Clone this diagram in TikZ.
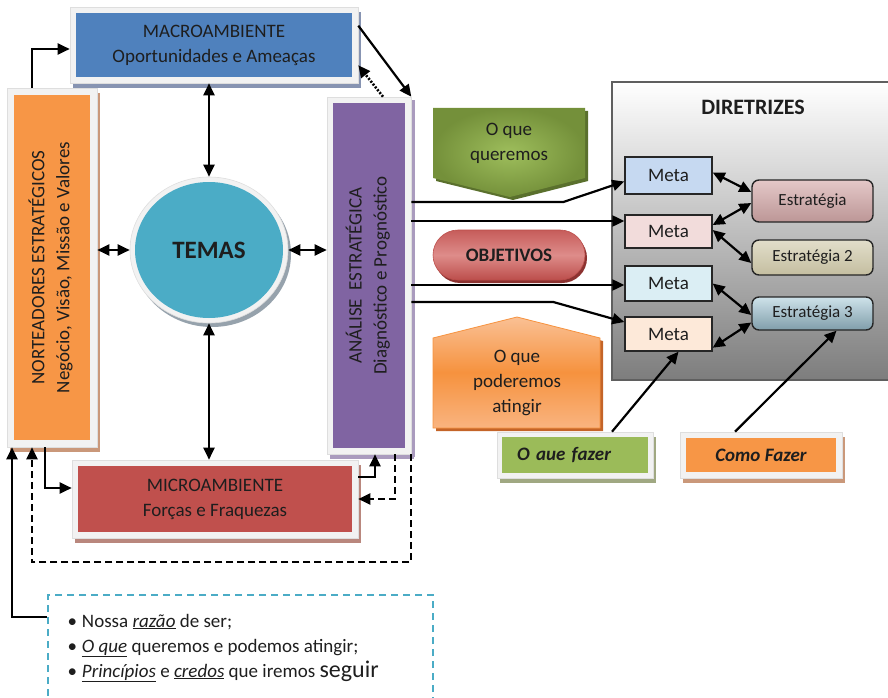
\documentclass[tikz,border=0pt]{standalone}
\usepackage{fontspec}
\usepackage{graphicx}
\setmainfont{Carlito}
\usetikzlibrary{arrows.meta,shapes.geometric,shadows}

\definecolor{ink}{RGB}{30,30,30}
\definecolor{framegray}{RGB}{242,242,242}
\definecolor{macroblue}{RGB}{79,129,189}
\definecolor{macroshadow}{RGB}{135,148,178}
\definecolor{norteorange}{RGB}{247,150,70}
\definecolor{norteshadow}{RGB}{202,152,122}
\definecolor{temasblue}{RGB}{75,172,198}
\definecolor{temasshadow}{RGB}{150,162,172}
\definecolor{analisepurple}{RGB}{128,100,162}
\definecolor{analiseshadow}{RGB}{170,155,190}
\definecolor{microred}{RGB}{192,80,77}
\definecolor{microshadow}{RGB}{185,135,125}
\definecolor{fazergreen}{RGB}{155,187,89}
\definecolor{fazershadow}{RGB}{160,168,130}
\definecolor{greenlight}{RGB}{158,190,92}
\definecolor{greendark}{RGB}{116,144,58}
\definecolor{greenshadow}{RGB}{90,112,45}
\definecolor{orangetop}{RGB}{250,192,148}
\definecolor{orangemid}{RGB}{246,146,62}
\definecolor{orangebot}{RGB}{249,180,128}
\definecolor{orangeshadow}{RGB}{196,100,40}
\definecolor{objtop}{RGB}{198,92,90}
\definecolor{objmid}{RGB}{222,140,138}
\definecolor{objbot}{RGB}{188,78,75}
\definecolor{objshadow}{RGB}{140,50,48}
\definecolor{panelgray}{RGB}{125,125,125}
\definecolor{paneledge}{RGB}{95,95,95}
\definecolor{metaA}{RGB}{198,217,241}
\definecolor{metaB}{RGB}{242,220,219}
\definecolor{metaC}{RGB}{219,238,244}
\definecolor{metaD}{RGB}{253,233,217}
\definecolor{estAtop}{RGB}{228,200,200}
\definecolor{estAbot}{RGB}{188,150,150}
\definecolor{estBtop}{RGB}{226,222,202}
\definecolor{estBbot}{RGB}{196,190,160}
\definecolor{estCtop}{RGB}{206,226,234}
\definecolor{estCbot}{RGB}{128,158,170}
\definecolor{boxblue}{RGB}{75,172,198}

\begin{document}
\begin{tikzpicture}[x=1pt,y=-1pt,
  txt/.style={font=\fontsize{19}{25}\selectfont, text=ink},
  panel/.style n args={3}{rectangle, draw=black!13, line width=0.6pt, fill=framegray,
    inner sep=0pt, align=center, txt,
    drop shadow={shadow xshift=3pt, shadow yshift=-5pt, fill=#2, opacity=1},
    path picture={\fill[#1] ([shift={(#3,-#3)}]path picture bounding box.north west)
      rectangle ([shift={(-#3,#3)}]path picture bounding box.south east);}},
  metabox/.style={rectangle, draw=black!85, line width=1.4pt, fill=#1, inner sep=0pt,
    minimum width=87pt, txt},
  estbox/.style 2 args={rectangle, rounded corners=7pt, draw=black!85, line width=1.4pt,
    top color=#1, bottom color=#2, inner sep=0pt, minimum width=121pt,
    font=\fontsize{17}{20}\selectfont, text=ink},
  arr/.style={line width=2.2pt, draw=black, -{Triangle[length=12pt,width=11pt]}},
  darr/.style={line width=2.2pt, draw=black,
    {Triangle[length=12pt,width=11pt]}-{Triangle[length=12pt,width=11pt]}},
  dashedarr/.style={arr, dash pattern=on 7pt off 4pt},
  dottedarr/.style={arr, line width=2.6pt, dash pattern=on 2pt off 1.6pt}
]
\useasboundingbox (0,0) rectangle (888,698);

% ---------- DIRETRIZES panel ----------
\shade[top color=white, bottom color=panelgray, draw=paneledge, line width=1.4pt]
  (612,82) rectangle (900,380);
\node[font=\bfseries\fontsize{22}{26}\selectfont, text=ink] (dirtitle) at (753,107) {DIRETRIZES};

\node[metabox=metaA, minimum height=37pt] (m1) at (668.5,175.5) {Meta};
\node[metabox=metaB, minimum height=33pt] (m2) at (668.5,231.5) {Meta};
\node[metabox=metaC, minimum height=35pt] (m3) at (668.5,283.5) {Meta};
\node[metabox=metaD, minimum height=34pt] (m4) at (668.5,334) {Meta};

\node[estbox={estAtop}{estAbot}, minimum height=42pt] (e1) at (812.5,201) {Estratégia};
\node[estbox={estBtop}{estBbot}, minimum height=35pt] (e2) at (812.5,257.5) {Estratégia 2};
\node[estbox={estCtop}{estCbot}, minimum height=33pt] (e3) at (812.5,313.5) {Estratégia 3};

% ---------- main boxes ----------
\node[panel={macroblue}{macroshadow}{6pt}, minimum width=288pt, minimum height=76pt]
  (macro) at (214,45) {MACROAMBIENTE\\Oportunidades e Ameaças};

\node[panel={norteorange}{norteshadow}{7pt}, minimum width=90pt, minimum height=359pt]
  (norte) at (52,267.5) {\rotatebox{90}{\begin{tabular}{@{}c@{}}NORTEADORES ESTRATÉGICOS\\
    Negócio, Visão, Missão e Valores\end{tabular}}};

\node[ellipse, draw=black!13, line width=0.6pt, fill=framegray, inner sep=0pt,
  minimum width=158pt, minimum height=146pt,
  drop shadow={shadow xshift=3pt, shadow yshift=-4pt, fill=temasshadow, opacity=1},
  path picture={\fill[temasblue] (path picture bounding box.center)
    ellipse [x radius=74pt, y radius=68pt];},
  font=\bfseries\fontsize{25}{30}\selectfont, text=ink] (temas) at (209,250) {TEMAS};

\node[panel={analisepurple}{analiseshadow}{6pt}, minimum width=84pt, minimum height=357pt,
  drop shadow={shadow xshift=4pt, shadow yshift=-3pt, fill=analiseshadow, opacity=1}]
  (analise) at (369,275.5) {\rotatebox{90}{\begin{tabular}{@{}c@{}}ANÁLISE\ \ ESTRATÉGICA\\
    Diagnóstico e Prognóstico\end{tabular}}};

\node[panel={microred}{microshadow}{6pt}, minimum width=286pt, minimum height=78pt]
  (micro) at (215,499) {MICROAMBIENTE\\Forças e Fraquezas};

\node[panel={fazergreen}{fazershadow}{5pt}, minimum width=156pt, minimum height=46pt,
  font=\bfseries\itshape\fontsize{19}{25}\selectfont, text width=116pt, align=left]
  (fazer) at (575,455) {O aue fazer};

\node[panel={norteorange}{norteshadow}{6pt}, minimum width=162pt, minimum height=46pt,
  font=\bfseries\itshape\fontsize{19}{25}\selectfont]
  (como) at (761,455) {Como Fazer};

% ---------- labels in the middle column ----------
\fill[greenshadow] (436,111) -- (588,111) -- (588,181) -- (513,200) -- (436,181) -- cycle;
\shade[inner color=greenlight, outer color=greendark]
  (433,108) -- (585,108) -- (585,178) -- (510,197) -- (433,178) -- cycle;
\node[txt, align=center] (want) at (509,143) {O que\\queremos};

\node[rectangle, rounded corners=25pt, minimum width=152pt, minimum height=50pt,
  top color=objtop, bottom color=objbot, middle color=objmid, draw=objbot, line width=0.6pt,
  drop shadow={shadow xshift=2pt, shadow yshift=-3pt, fill=objshadow, opacity=1},
  font=\bfseries\fontsize{19}{25}\selectfont, text=ink] (obj) at (509,255) {OBJETIVOS};

\fill[orangeshadow] (436,341) -- (520,320) -- (603,341) -- (603,431) -- (436,431) -- cycle;
\shade[top color=orangetop, bottom color=orangebot, middle color=orangemid,
  draw=orangemid, line width=0.8pt]
  (433,338) -- (517,317) -- (600,338) -- (600,428) -- (433,428) -- cycle;
\node[txt, align=center] (reach) at (517,383) {O que\\poderemos\\atingir};

% ---------- list of guiding principles ----------
\node[draw=boxblue, line width=1.8pt, dash pattern=on 7pt off 5pt,
  minimum width=385pt, minimum height=120pt, inner sep=0pt] (credo) at (240.5,655) {};
\node[txt, anchor=west, align=left] (credolist) at (64,648)
  {\textbullet\hspace{5pt}Nossa \underline{\textit{razão}} de ser;\\
   \textbullet\hspace{5pt}\underline{\textit{O que}} queremos e podemos atingir;\\
   \textbullet\hspace{5pt}\underline{\textit{Princípios}} e \underline{\textit{credos}} que iremos
   {\fontsize{24}{25}\selectfont seguir}};

% ---------- connectors around TEMAS ----------
\coordinate (nTop) at ([xshift=-20pt]norte.north);
\draw[arr] (nTop) |- ([yshift=-4pt]macro.west);
\draw[darr] (temas.north |- macro.south) -- (temas.north);
\draw[darr] (norte.east |- temas.west) -- (temas.west);
\draw[darr] (temas.east) -- (analise.west |- temas.east);
\draw[darr] (temas.south) -- (temas.south |- micro.north);

\draw[arr] ([yshift=-19pt]macro.north east) -- (analise.north east);
\draw[dottedarr] ([xshift=14pt]analise.north) -- ([yshift=18pt]macro.south east);

\draw[arr] ([xshift=-7pt]norte.south) |- ([yshift=11pt]micro.west);
\draw[arr] ([yshift=22pt]micro.east) -| ([xshift=6pt]analise.south);
\draw[dashedarr] ([xshift=26pt]analise.south) |- (micro.east);
\draw[dashedarr] (analise.south east) -- ++(0,108) -| ([xshift=-20pt]norte.south);
\draw[arr] ([yshift=-23pt]credo.north west) -| ([xshift=-40pt]norte.south);

% ---------- connectors to the goals ----------
\coordinate (a1) at ([yshift=73.5pt]analise.east);
\coordinate (a2) at ([yshift=54.5pt]analise.east);
\coordinate (a3) at ([yshift=-9.5pt]analise.east);
\coordinate (a4) at ([yshift=-26.5pt]analise.east);
\draw[arr] (a1) -- ++(152,0) -- ([yshift=-6pt]m1.west);
\draw[arr] (a2) -- (a2 -| m2.west);
\draw[arr] (a3) -- (a3 -| m3.west);
\draw[arr] (a4) -- ++(142,0) -- ([yshift=12pt]m4.west);

\draw[darr] ([yshift=3pt]m1.east) -- ([yshift=9pt]e1.west);
\draw[darr] ([yshift=6.5pt]m2.east) -- ([yshift=-2pt]e1.west);
\draw[darr] ([yshift=1.5pt]m2.east) -- ([yshift=-5.5pt]e2.west);
\draw[darr] (m3.east) -- ([yshift=-1.5pt]e3.west);
\draw[darr] ([yshift=4pt]m4.south east) -- ([yshift=-9pt]e3.west);

\draw[arr] ([xshift=37pt]fazer.north) -- ([xshift=10pt]m4.south);
\draw[arr] ([xshift=-26pt]como.north) -- ([xshift=24pt]e3.south);
\end{tikzpicture}
\end{document}
